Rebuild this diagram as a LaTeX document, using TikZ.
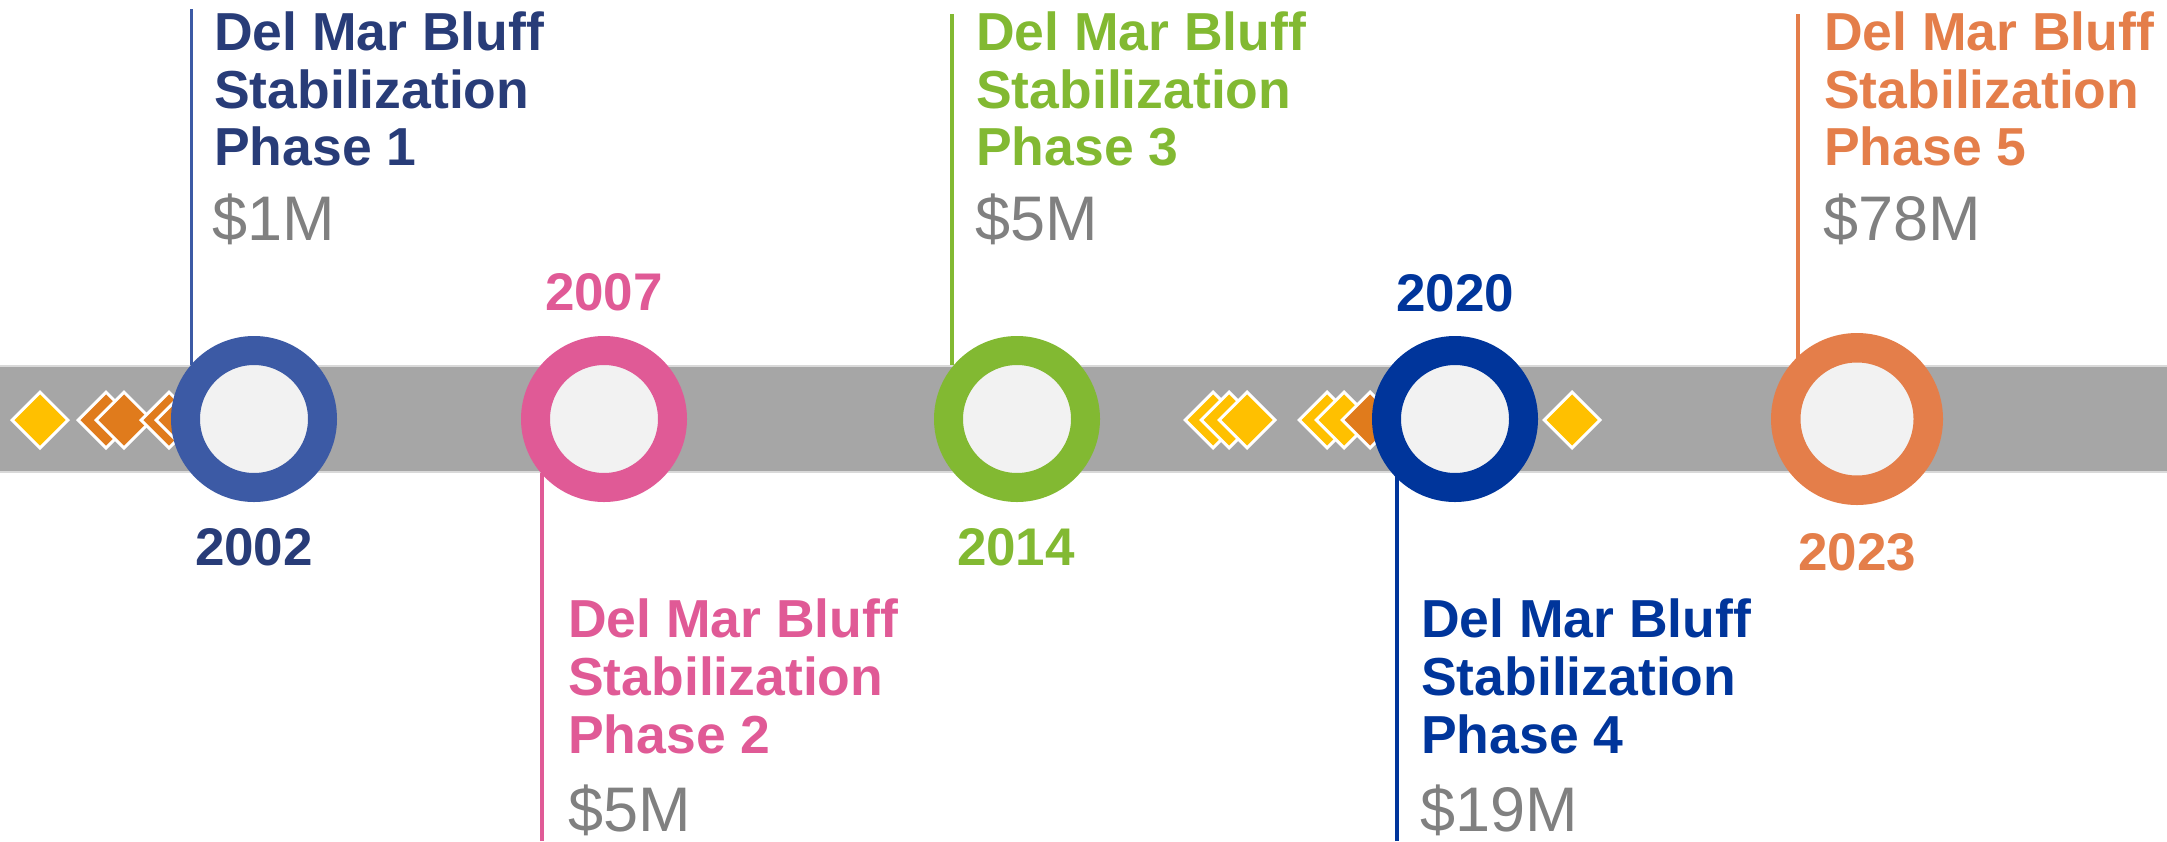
\documentclass[tikz,border=0pt]{standalone}
\usepackage{fontspec}
\setmainfont{Liberation Sans}
\usetikzlibrary{shapes.geometric}
\definecolor{navy}{RGB}{40,60,120}
\definecolor{ringA}{RGB}{60,90,165}
\definecolor{pinkC}{RGB}{224,90,150}
\definecolor{greenC}{RGB}{130,185,50}
\definecolor{blueC}{RGB}{0,53,155}
\definecolor{orangeC}{RGB}{228,126,74}
\definecolor{bandC}{RGB}{166,166,166}
\definecolor{bandEdge}{RGB}{217,217,217}
\definecolor{innerC}{RGB}{242,242,242}
\definecolor{moneyC}{RGB}{128,128,128}
\definecolor{dYellow}{RGB}{255,192,0}
\definecolor{dOrange}{RGB}{224,123,28}
\tikzset{
  ring/.style={circle, draw=#1, line width=29pt, fill=innerC, minimum size=137pt, inner sep=0pt},
  stem/.style={draw=#1, line width=3.7pt},
  titleline/.style={anchor=base west, inner sep=0pt, text=#1, font=\fontsize{53.5}{58}\selectfont\bfseries},
  money/.style={anchor=base west, inner sep=0pt, text=moneyC, font=\fontsize{63}{70}\selectfont},
  year/.style={anchor=base, inner sep=0pt, text=#1, font=\fontsize{53}{60}\selectfont\bfseries},
  gem/.style={diamond, aspect=1, draw=white, line width=3pt, fill=#1, minimum width=57pt, minimum height=57pt, inner sep=0pt},
}
\begin{document}
\begin{tikzpicture}[x=1pt,y=-1pt]
\useasboundingbox (0,0) rectangle (2167,841);
% stems (drawn first, band and rings cover their ends)
\coordinate (t1) at (191.5,9);
\coordinate (t2) at (542,841);
\coordinate (t3) at (952,14);
\coordinate (t4) at (1397,841);
\coordinate (t5) at (1798,14);
\coordinate (k1) at (191.5,419);
\coordinate (k2) at (542,419);
\coordinate (k3) at (952,419);
\coordinate (k4) at (1397,419);
\coordinate (k5) at (1798,419);
\draw[stem=ringA] (t1) -- (k1);
\draw[stem=pinkC] (t2) -- (k2);
\draw[stem=greenC] (t3) -- (k3);
\draw[stem=blueC] (t4) -- (k4);
\draw[stem=orangeC] (t5) -- (k5);
% band
\fill[bandC] (0,366) rectangle (2167,472);
\draw[bandEdge, line width=1.5pt] (0,366) -- (2167,366);
\draw[bandEdge, line width=1.5pt] (0,472) -- (2167,472);
% diamonds
\node[gem=dYellow] (g1) at (40,420) {};
\node[gem=dOrange] (g2) at (106,420) {};
\node[gem=dOrange] (g3) at (124,420) {};
\node[gem=dOrange] (g4) at (169,420) {};
\node[gem=dOrange] (g5) at (184,420) {};
\node[gem=dYellow] (g6) at (1213,420) {};
\node[gem=dYellow] (g7) at (1229,420) {};
\node[gem=dYellow] (g8) at (1247,420) {};
\node[gem=dYellow] (g9) at (1327,420) {};
\node[gem=dYellow] (g10) at (1344,420) {};
\node[gem=dOrange] (g11) at (1370,420) {};
\node[gem=dYellow] (g12) at (1572,420) {};
% rings
\node[ring=ringA] (c1) at (254,419) {};
\node[ring=pinkC] (c2) at (604,419) {};
\node[ring=greenC] (c3) at (1017,419) {};
\node[ring=blueC] (c4) at (1455,419) {};
\node[ring=orangeC, line width=29.5pt, minimum size=142.5pt] (c5) at (1857,419) {};
% years
\node[year=navy] (y1) at (254,565) {2002};
\node[year=pinkC] (y2) at (604,310) {2007};
\node[year=greenC] (y3) at (1016,565) {2014};
\node[year=blueC] (y4) at (1455,311) {2020};
\node[year=orangeC] (y5) at (1857,570) {2023};
% phase 1
\node[titleline=navy] (p1a) at (214,50) {Del Mar Bluff};
\node[titleline=navy] (p1b) at (214,108) {Stabilization};
\node[titleline=navy] (p1c) at (214,165) {Phase 1};
\node[money] (m1) at (212,240) {\$1M};
% phase 2
\node[titleline=pinkC] (p2a) at (568,637) {Del Mar Bluff};
\node[titleline=pinkC] (p2b) at (568,695) {Stabilization};
\node[titleline=pinkC] (p2c) at (568,753) {Phase 2};
\node[money] (m2) at (568,831) {\$5M};
% phase 3
\node[titleline=greenC] (p3a) at (976,50) {Del Mar Bluff};
\node[titleline=greenC] (p3b) at (976,108) {Stabilization};
\node[titleline=greenC] (p3c) at (976,165) {Phase 3};
\node[money] (m3) at (975,240) {\$5M};
% phase 4
\node[titleline=blueC] (p4a) at (1421,637) {Del Mar Bluff};
\node[titleline=blueC] (p4b) at (1421,695) {Stabilization};
\node[titleline=blueC] (p4c) at (1421,753) {Phase 4};
\node[money] (m4) at (1420,831) {\$19M};
% phase 5
\node[titleline=orangeC] (p5a) at (1824,50) {Del Mar Bluff};
\node[titleline=orangeC] (p5b) at (1824,108) {Stabilization};
\node[titleline=orangeC] (p5c) at (1824,165) {Phase 5};
\node[money] (m5) at (1823,240) {\$78M};
\end{tikzpicture}
\end{document}
